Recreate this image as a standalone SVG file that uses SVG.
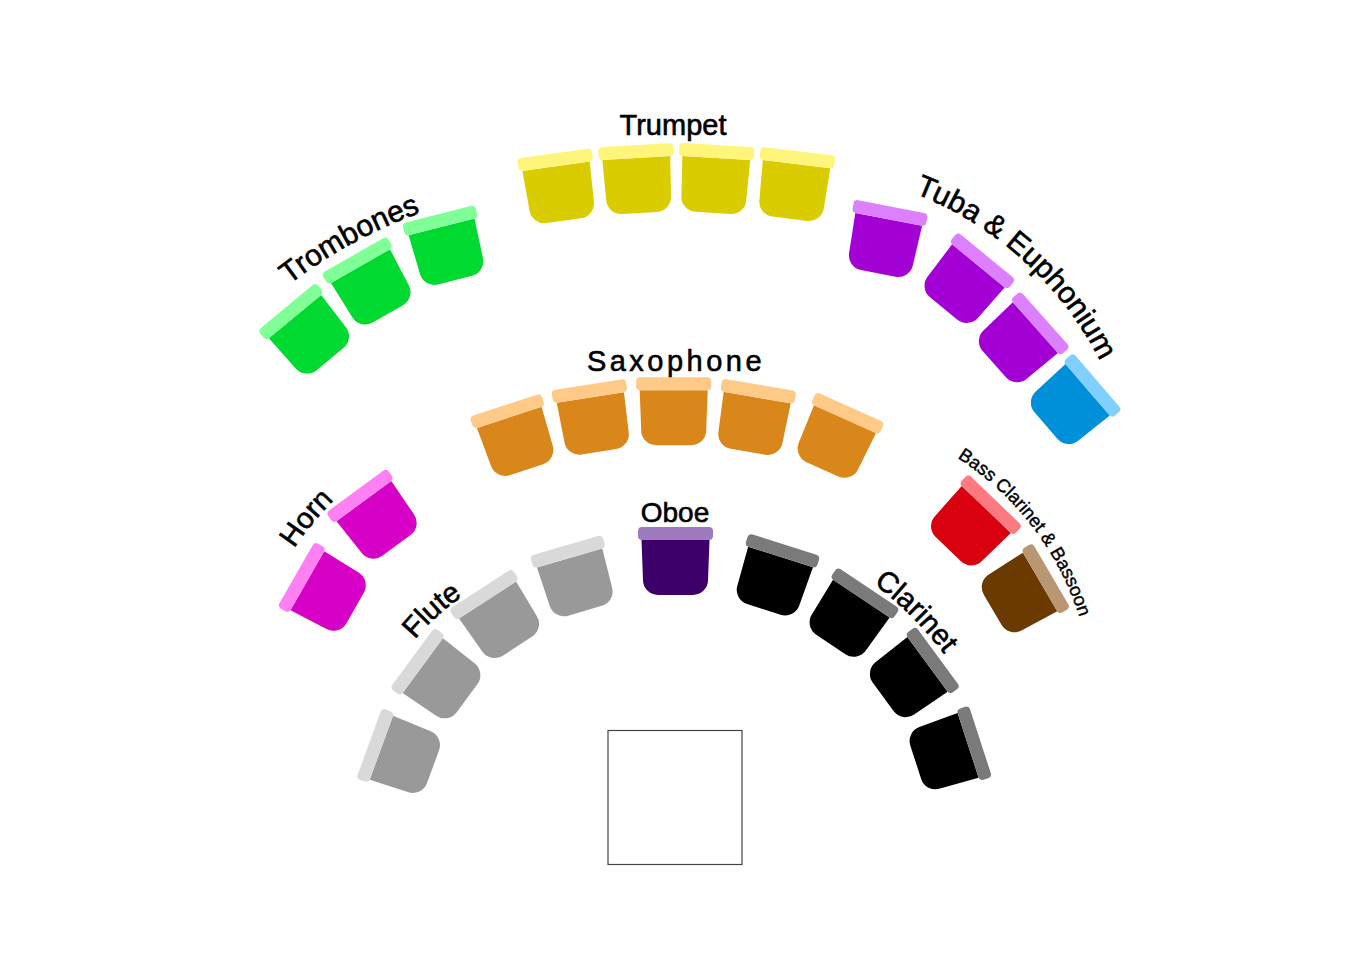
<svg xmlns="http://www.w3.org/2000/svg" xmlns:xlink="http://www.w3.org/1999/xlink" width="1350" height="959" viewBox="0 0 1350 959">
<style>
.lbl{font-family:"Liberation Sans",Arial,sans-serif;font-size:29px;fill:#000;stroke:#000;stroke-width:0.6px}
.trp .b{fill:#D9CC00}.trp .t{fill:#FFF57A}
.trb .b{fill:#00D92F}.trb .t{fill:#80FF96}
.tba .b{fill:#A300D6}.tba .t{fill:#DD80FF}
.euph .b{fill:#0090D9}.euph .t{fill:#80D0FF}
.sax .b{fill:#D9861A}.sax .t{fill:#FFC987}
.hrn .b{fill:#D600C6}.hrn .t{fill:#FF80F3}
.bcl .b{fill:#D9000F}.bcl .t{fill:#FF7A80}
.bsn .b{fill:#6B3A00}.bsn .t{fill:#B99773}
.flt .b{fill:#999999}.flt .t{fill:#D9D9D9}
.obo .b{fill:#3D006B}.obo .t{fill:#9E7ABF}
.cla .b{fill:#000000}.cla .t{fill:#7A7A7A}
</style>
<defs>
<path id="body" d="M-34,-21 H34 L32.5,19 A15,15 0 0 1 17.5,34 H-17.5 A15,15 0 0 1 -32.5,19 Z"/>
<rect id="bar" x="-37.5" y="-34" width="75" height="13" rx="4"/>
<path id="pTrb" d="M196.6,379.6 A477,477 0 0 1 550.3,186"/>
<path id="pTuba" d="M865.5,178.6 A349,349 0 0 1 1122,415.2"/>
<path id="pHorn" d="M256,635.3 A290,290 0 0 1 411.6,445.9"/>
<path id="pFlute" d="M370.5,720.3 A239,239 0 0 1 547.3,559.5"/>
<path id="pCla" d="M756.9,527.6 A344,344 0 0 1 1000.6,770.4"/>
<path id="pBcl" d="M888.2,425.5 A294,294 0 0 1 1092.7,692.3"/>
</defs>
<rect width="1350" height="959" fill="#fff"/>

<g id="podium"><rect x="608" y="730.5" width="134" height="134" fill="#fff" stroke="#444" stroke-width="1.2"/></g>

<g id="trumpet" class="trp">
<g transform="translate(559,187) rotate(-8)"><use href="#body" class="b"/><use href="#bar" class="t"/></g>
<g transform="translate(637.5,179) rotate(-3.3)"><use href="#body" class="b"/><use href="#bar" class="t"/></g>
<g transform="translate(715,179) rotate(3.5)"><use href="#body" class="b"/><use href="#bar" class="t"/></g>
<g transform="translate(794,185) rotate(7)"><use href="#body" class="b"/><use href="#bar" class="t"/></g>
<text class="lbl" x="673" y="135" text-anchor="middle">Trumpet</text>
</g>

<g id="trombones" class="trb">
<g transform="translate(308.4,332.8) rotate(-39.7)"><use href="#body" class="b"/><use href="#bar" class="t"/></g>
<g transform="translate(370.9,284.4) rotate(-29.8)"><use href="#body" class="b"/><use href="#bar" class="t"/></g>
<g transform="translate(446.7,247.2) rotate(-14.2)"><use href="#body" class="b"/><use href="#bar" class="t"/></g>
<text class="lbl" style="font-size:30px"><textPath href="#pTrb" startOffset="50%" text-anchor="middle">Trombones</textPath></text>
</g>

<g id="tuba-euphonium">
<g class="tba" transform="translate(884.7,240) rotate(11)"><use href="#body" class="b"/><use href="#bar" class="t"/></g>
<g class="tba" transform="translate(965.1,282.1) rotate(39.3)"><use href="#body" class="b"/><use href="#bar" class="t"/></g>
<g class="tba" transform="translate(1019.7,341.6) rotate(48.4)"><use href="#body" class="b"/><use href="#bar" class="t"/></g>
<g class="euph" transform="translate(1071.7,403.4) rotate(49.3)"><use href="#body" class="b"/><use href="#bar" class="t"/></g>
<text class="lbl" style="font-size:30px"><textPath href="#pTuba" startOffset="49%" text-anchor="middle">Tuba &amp; Euphonium</textPath></text>
</g>

<g id="saxophone" class="sax">
<g transform="translate(515.8,437.4) rotate(-18.2)"><use href="#body" class="b"/><use href="#bar" class="t"/></g>
<g transform="translate(593.6,418.2) rotate(-8.9)"><use href="#body" class="b"/><use href="#bar" class="t"/></g>
<g transform="translate(673.7,411.2)"><use href="#body" class="b"/><use href="#bar" class="t"/></g>
<g transform="translate(753.7,418.3) rotate(9.7)"><use href="#body" class="b"/><use href="#bar" class="t"/></g>
<g transform="translate(836.4,438.3) rotate(24.2)"><use href="#body" class="b"/><use href="#bar" class="t"/></g>
<text class="lbl" x="676" y="371" text-anchor="middle" letter-spacing="3.5">Saxophone</text>
</g>

<g id="horn" class="hrn">
<g transform="translate(376.3,518) rotate(-36.3)"><use href="#body" class="b"/><use href="#bar" class="t"/></g>
<g transform="translate(325.6,591.1) rotate(-60.3)"><use href="#body" class="b"/><use href="#bar" class="t"/></g>
<text class="lbl"><textPath href="#pHorn" startOffset="50%" text-anchor="middle">Horn</textPath></text>
</g>

<g id="bass-clarinet-bassoon">
<g class="bcl" transform="translate(971.8,524.6) rotate(43.7)"><use href="#body" class="b"/><use href="#bar" class="t"/></g>
<g class="bsn" transform="translate(1022,592.6) rotate(59.7)"><use href="#body" class="b"/><use href="#bar" class="t"/></g>
<text class="lbl" style="font-size:18.5px;stroke-width:0.4px"><textPath href="#pBcl" startOffset="50%" text-anchor="middle">Bass Clarinet &amp; Bassoon</textPath></text>
</g>

<g id="flute" class="flt">
<g transform="translate(575.5,578.1) rotate(-16.2)"><use href="#body" class="b"/><use href="#bar" class="t"/></g>
<g transform="translate(499,617.6) rotate(-33)"><use href="#body" class="b"/><use href="#bar" class="t"/></g>
<g transform="translate(439.7,678) rotate(-53.7)"><use href="#body" class="b"/><use href="#bar" class="t"/></g>
<g transform="translate(401.1,755) rotate(-69.9)"><use href="#body" class="b"/><use href="#bar" class="t"/></g>
<text class="lbl"><textPath href="#pFlute" startOffset="50%" text-anchor="middle">Flute</textPath></text>
</g>

<g id="oboe" class="obo">
<g transform="translate(675.5,561)"><use href="#body" class="b"/><use href="#bar" class="t"/></g>
<text class="lbl" x="675" y="522" text-anchor="middle" style="font-size:28px">Oboe</text>
</g>

<g id="clarinet" class="cla">
<g transform="translate(774.2,577) rotate(17.6)"><use href="#body" class="b"/><use href="#bar" class="t"/></g>
<g transform="translate(849.7,616.2) rotate(33.7)"><use href="#body" class="b"/><use href="#bar" class="t"/></g>
<g transform="translate(910.6,676.8) rotate(53.7)"><use href="#body" class="b"/><use href="#bar" class="t"/></g>
<g transform="translate(948.1,751.8) rotate(72)"><use href="#body" class="b"/><use href="#bar" class="t"/></g>
<text class="lbl"><textPath href="#pCla" startOffset="50%" text-anchor="middle">Clarinet</textPath></text>
</g>

<g id="connectors"/>
</svg>
